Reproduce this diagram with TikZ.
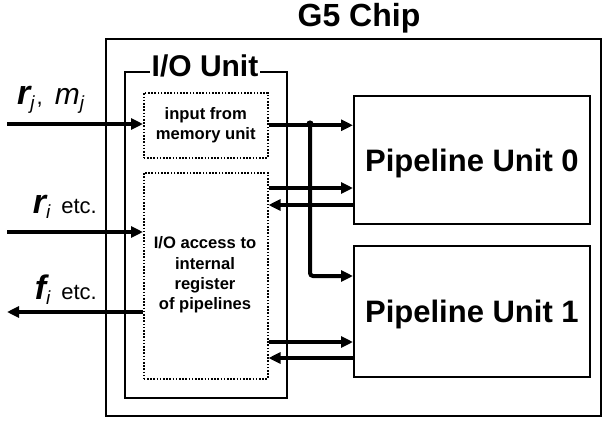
\documentclass[tikz,border=0pt]{standalone}
\usepackage{fontspec}
\setmainfont{Liberation Sans}
\usetikzlibrary{arrows.meta}
\tikzset{
  box/.style={draw, line width=1.8pt, inner sep=0pt},
  dotbox/.style={draw, line width=1.5pt, dash pattern=on 1.6pt off 1.6pt, inner sep=0pt, align=center,
    font=\fontsize{16.6}{20.2}\selectfont\bfseries},
  bus/.style={line width=4pt, -{Triangle[length=12pt,width=11pt]}},
  lbl/.style={inner sep=0pt, font=\fontsize{22}{24}\selectfont},
  bigtxt/.style={inner sep=0pt, font=\fontsize{31}{34}\selectfont\bfseries},
}
\newcommand{\bvec}[1]{{\fontsize{34}{34}\selectfont\bfseries\itshape #1}}
\newcommand{\ivar}[1]{{\fontsize{30}{30}\selectfont\itshape #1}}
\newcommand{\isub}[1]{\raisebox{-5pt}{\fontsize{19}{19}\selectfont\itshape #1}}
\begin{document}
\begin{tikzpicture}[x=1pt,y=-1pt]
\useasboundingbox (0,0) rectangle (603,421);
% chip
\node[box, minimum width=495pt, minimum height=377pt, anchor=north west] (chip) at (105,38) {};
\node[inner sep=0pt, anchor=base, font=\fontsize{32}{34}\selectfont\bfseries] (title) at (359,26) {G5 Chip};
% I/O unit
\node[box, minimum width=162pt, minimum height=326pt, anchor=north west] (io) at (124,71) {};
\node[fill=white, inner xsep=2pt, inner ysep=0pt, anchor=base, font=\fontsize{30}{32}\selectfont\bfseries] (iolbl) at (205,76) {I/O Unit};
% dotted boxes
\node[dotbox, minimum width=124pt, minimum height=65pt, anchor=north west] (mem) at (143,92) {input from\\memory unit};
\node[dotbox, minimum width=124pt, minimum height=206pt, anchor=north west] (acc) at (143,172) {};
\node[dotbox, draw=none] (acctxt) at (205,275) {I/O access to\\internal\\register\\of pipelines};
% pipelines
\node[box, minimum width=236pt, minimum height=128pt, anchor=north west] (p0) at (353,95) {};
\node[bigtxt, anchor=base, yshift=-11.5pt] (p0t) at (p0.center) {Pipeline Unit 0};
\node[box, minimum width=236pt, minimum height=131pt, anchor=north west] (p1) at (353,245) {};
\node[bigtxt, anchor=base, yshift=-11.5pt] (p1t) at (p1.center) {Pipeline Unit 1};
% free ends
\coordinate (inj) at (7,124);
\coordinate (ini) at (7,232);
\coordinate (outf) at (7,312);
% input arrows
\draw[bus] (inj) -- (mem.west |- inj);
\draw[bus] (ini) -- (acc.west |- ini);
\draw[bus] (acc.west |- outf) -- (outf);
% memory to pipelines
\draw[bus] (mem.east) -- (p0.west |- mem.east);
\coordinate (jn) at (310,124);
\draw[bus, rounded corners=3pt] (jn) |- (p1.west |- 0,276);
\fill (jn) circle (3.6pt);
% pipeline 0 links
\draw[bus] (acc.east |- 0,188) -- (p0.west |- 0,188);
\draw[bus] (p0.west |- 0,205) -- (acc.east |- 0,205);
% pipeline 1 links
\draw[bus] (acc.east |- 0,342) -- (p1.west |- 0,342);
\draw[bus] (p1.west |- 0,358) -- (acc.east |- 0,358);
% labels
\node[lbl, anchor=base west] (lj) at (17,104) {\bvec{r}\isub{j}\hspace{2pt},\hspace{12pt}\ivar{m}\isub{j}};
\node[lbl, anchor=base east] (li) at (97,213) {\bvec{r}\isub{i}\hspace{11pt}etc.};
\node[lbl, anchor=base east] (lf) at (97,299) {\bvec{f}\isub{i}\hspace{11pt}etc.};
\end{tikzpicture}
\end{document}
